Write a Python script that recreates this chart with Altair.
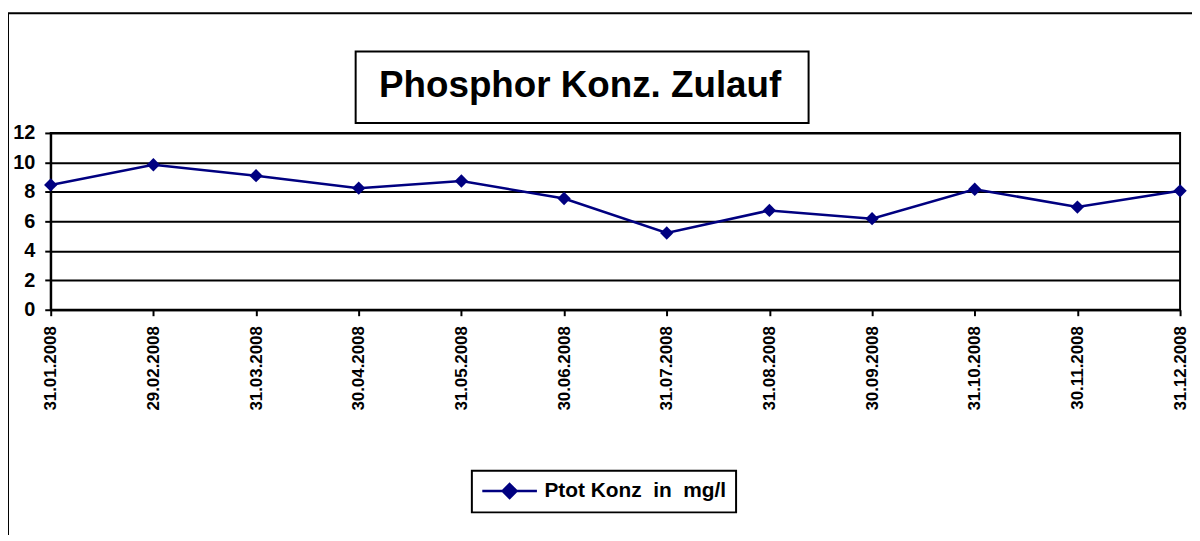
import altair as alt
import pandas as pd

# ---- data ----
dates = ["31.01.2008", "29.02.2008", "31.03.2008", "30.04.2008", "31.05.2008",
         "30.06.2008", "31.07.2008", "31.08.2008", "30.09.2008", "31.10.2008",
         "30.11.2008", "31.12.2008"]
ptot = [8.47, 9.84, 9.10, 8.25, 8.74, 7.55, 5.21, 6.74, 6.18, 8.18, 6.97, 8.07]
series_name = "Ptot Konz\u00a0 in\u00a0 mg/l"
title_text = "Phosphor Konz. Zulauf"
y_ticks = [0, 2, 4, 6, 8, 10, 12]

FONT = "Liberation Sans"
NAVY = "#000080"

df = pd.DataFrame({"Datum": dates, "Wert": ptot, "Serie": [series_name] * len(dates)})

x_enc = alt.X("Datum:O", sort=None, scale=alt.Scale(padding=0),
              axis=alt.Axis(title=None, labelAngle=270, labelAlign="right",
                            labelBaseline="middle", labelFontSize=17,
                            labelFontWeight="bold", labelFont=FONT,
                            labelColor="black", tickSize=6, tickColor="black",
                            tickWidth=2, domainColor="black", domainWidth=2,
                            labelPadding=10, grid=False))
y_enc = alt.Y("Wert:Q", scale=alt.Scale(domain=[0, 12], nice=False, zero=True),
              axis=alt.Axis(title=None, values=y_ticks, labelFontSize=20,
                            labelFontWeight="bold", labelFont=FONT,
                            labelColor="black", tickSize=6, tickColor="black",
                            tickWidth=2, domainColor="black", domainWidth=2,
                            labelPadding=10, grid=True, gridColor="black",
                            gridWidth=2, gridOpacity=1))

base = alt.Chart(df)

line = base.mark_line(color=NAVY, strokeWidth=2.5).encode(x=x_enc, y=y_enc)

points = base.mark_point(filled=True, shape="diamond", size=180, opacity=1).encode(
    x=x_enc, y=y_enc,
    color=alt.Color("Serie:N",
                    scale=alt.Scale(range=[NAVY]),
                    legend=alt.Legend(
                        title=None, orient="none", legendX=424, legendY=340,
                        symbolType="M-1,0L4.5,0M1.75,-0.7L2.45,0L1.75,0.7L1.05,0Z",
                        symbolSize=400, symbolStrokeWidth=2.5,
                        symbolStrokeColor=NAVY, symbolFillColor=NAVY,
                        labelFontSize=21, labelFontWeight="bold", labelFont=FONT,
                        labelColor="black", labelOffset=41, labelLimit=500,
                        padding=9, strokeColor="black")),
)

title_df = pd.DataFrame({"t": [title_text]})
title_box = alt.Chart(title_df).mark_rect(fillOpacity=0, stroke="black", strokeWidth=2).encode(
    x=alt.value(307), x2=alt.value(763), y=alt.value(-82), y2=alt.value(-10))
title_txt = alt.Chart(title_df).mark_text(fontSize=37, fontWeight="bold", font=FONT,
                                          color="black", align="center",
                                          baseline="alphabetic").encode(
    text="t:N", x=alt.value(533), y=alt.value(-36))
frame = alt.Chart(title_df).mark_rect(fillOpacity=0, stroke="black", strokeWidth=2).encode(
    x=alt.value(-43), x2=alt.value(1300), y=alt.value(-120.5), y2=alt.value(600))

chart = alt.layer(frame, title_box, title_txt, line, points).properties(
    width=1137, height=178,
    autosize=alt.AutoSizeParams(type="none"),
    padding={"left": 43, "top": 124, "right": 12, "bottom": 225},
).configure_view(stroke="black", strokeWidth=2).configure_legend(strokeWidth=2)

chart.save("out.html", embed_options={"renderer": "svg", "actions": False})
